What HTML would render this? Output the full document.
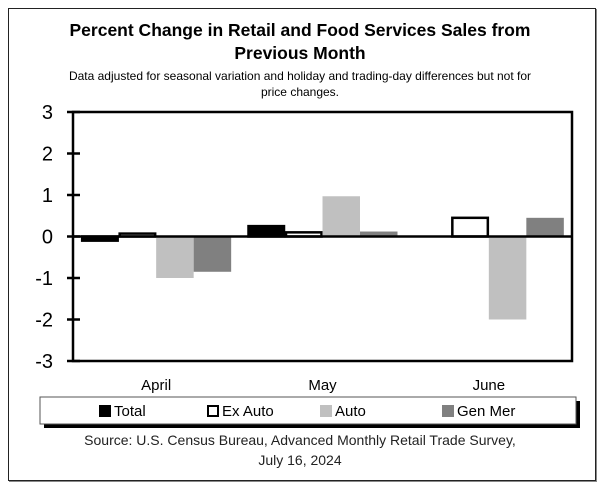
<!DOCTYPE html>
<html><head><meta charset="utf-8"><style>
body{margin:0;background:#fff;font-family:"Liberation Sans",sans-serif;}
#wrap{position:relative;width:600px;height:489px;overflow:hidden;}
.t{position:absolute;left:0;width:600px;text-align:center;color:#000;}
</style></head><body>
<div id="wrap">
<div style="position:absolute;left:8px;top:8px;width:586px;height:471px;border:1px solid #222;box-shadow:1px 1px 0 #888;"></div>
<div class="t" style="top:19px;font-weight:bold;font-size:17.5px;line-height:23px;">Percent Change in Retail and Food Services Sales from<br>Previous Month</div>
<div class="t" style="top:68px;font-size:12px;line-height:16px;">Data adjusted for seasonal variation and holiday and trading-day differences but not for<br>price changes.</div>
<svg id="svg" width="600" height="489" style="position:absolute;left:0;top:0"></svg>
<div class="t" style="top:430px;font-size:14px;line-height:20px;color:#222;">Source: U.S. Census Bureau, Advanced Monthly Retail Trade Survey,<br>July 16, 2024</div>
</div>
<script>
const categories=["April","May","June"];
const seriesNames=["Total","Ex Auto","Auto","Gen Mer"];
const totalVals=[-0.1,0.25,0.0];
const exAutoVals=[0.07,0.1,0.45];
const autoVals=[-1.0,0.97,-2.0];
const genMerVals=[-0.85,0.12,0.45];
const yTicks=[3,2,1,0,-1,-2,-3];
const NS="http://www.w3.org/2000/svg";
const svg=document.getElementById('svg');
const L=73,R=572,T=112,B=361,yMin=-3,yMax=3;
const y=v=>T+(yMax-v)/(yMax-yMin)*(B-T);
const gw=(R-L)/categories.length,bw=37.5,pad=(gw-4*bw)/2;
const xb=(c,s)=>L+c*gw+pad+s*bw;
function mk(tag,attrs){const e=document.createElementNS(NS,tag);for(const k in attrs)e.setAttribute(k,attrs[k]);svg.appendChild(e);return e;}
const styles=[{fill:"#000",stroke:"#000"},{fill:"#fff",stroke:"#000"},{fill:"#c0c0c0",stroke:"none"},{fill:"#808080",stroke:"none"}];
const data=[totalVals,exAutoVals,autoVals,genMerVals];
data.forEach((arr,s)=>arr.forEach((v,c)=>{
  const y0=y(0),y1=y(v);
  const r=mk('rect',{x:xb(c,s)+(styles[s].stroke!=="none"?1:0),y:Math.min(y0,y1),width:bw-(styles[s].stroke!=="none"?2:0),height:Math.abs(y1-y0),fill:styles[s].fill,stroke:styles[s].stroke,'stroke-width':2.5});
  
  
}));
const frame=mk('rect',{x:L,y:T,width:R-L,height:B-T,fill:"none",stroke:"#000",'stroke-width':2.5});


const zl=mk('line',{x1:L,x2:R,y1:y(0),y2:y(0),stroke:"#000",'stroke-width':2.5});


yTicks.forEach(v=>{
  const tk=mk('line',{x1:L-6,x2:L+7,y1:y(v),y2:y(v),stroke:"#000",'stroke-width':2.5});
  
  
  const tx=mk('text',{x:53,y:y(v)+7,'text-anchor':'end','font-size':20,'font-family':'Liberation Sans, sans-serif'});
  tx.textContent=v;
  
  
});
categories.forEach((c,i)=>{
  const tx=mk('text',{x:L+i*gw+gw/2,y:390,'text-anchor':'middle','font-size':15,'font-family':'Liberation Sans, sans-serif'});
  tx.textContent=c;
  
  
});
const sh=mk('rect',{x:44,y:401,width:536,height:27,fill:"#000"});


const lb=mk('rect',{x:40,y:397,width:536,height:27,fill:"#fff",stroke:"#555",'stroke-width':1});


const lx=[99,207,320,442];
seriesNames.forEach((n,i)=>{
  const sw=mk('rect',{x:lx[i]+(i<2?1:0),y:405+(i<2?1:0),width:i<2?10:12,height:i<2?10:12,fill:styles[i].fill,stroke:styles[i].stroke,'stroke-width':2});
  
  
  const tx=mk('text',{x:lx[i]+15,y:416,'font-size':15,'font-family':'Liberation Sans, sans-serif'});
  tx.textContent=n;
  
  
});
</script>
</body></html>
